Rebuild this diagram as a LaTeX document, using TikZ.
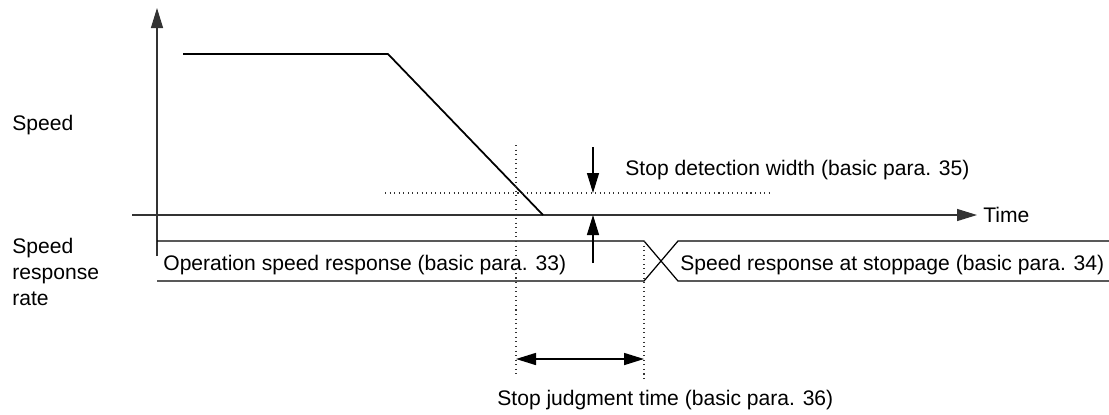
\documentclass[tikz,border=0pt]{standalone}
\usepackage{fontspec}
\setmainfont{Liberation Sans}
\usetikzlibrary{arrows.meta, positioning}

\begin{document}
\begin{tikzpicture}[
  x=0.02cm, y=-0.02cm,
  lbl/.style={font=\fontsize{12}{14}\selectfont, inner sep=0pt, anchor=base west},
  axis/.style={line width=0.7pt, black!80},
  band/.style={line width=0.7pt, black},
  guide/.style={line width=0.6pt, dotted, black!80},
  >={Triangle[length=0.4cm, width=0.24cm]}
]
\useasboundingbox (0,0) rectangle (1109,414);

% axes
\coordinate (ybot) at (157,256);
\coordinate (ytop) at (157,8);
\coordinate (xleft) at (132,215);
\coordinate (xright) at (977,215);
\draw[axis, ->] (ybot) -- (ytop);
\draw[axis, ->] (xleft) -- (xright);
\node[lbl] (time) at (983,222) {Time};

% speed curve
\coordinate (s0) at (183,54);
\coordinate (s1) at (388,54);
\coordinate (s2) at (543,215);
\draw[line width=1pt] (s0) -- (s1) -- (s2);

% speed response band
\coordinate (bl1) at (157,241);
\coordinate (bl2) at (157,281);
\coordinate (bm1) at (644,241);
\coordinate (bm2) at (644,281);
\coordinate (bn1) at (678,241);
\coordinate (bn2) at (678,281);
\coordinate (br1) at (1109,241);
\coordinate (br2) at (1109,281);
\draw[band] (bl1) -- (bm1) -- (bn2) -- (br2);
\draw[band] (bl2) -- (bm2) -- (bn1) -- (br1);
\node[lbl] (oper) at (163,270) {Operation speed response (basic para. 33)};
\node[lbl] (stopresp) at (680,270) {Speed response at stoppage (basic para. 34)};

% left labels
\node[lbl] (speed) at (12,130) {Speed};
\node[lbl] (rate1) at (12,253) {Speed};
\node[lbl] (rate2) at (12,279) {response};
\node[lbl] (rate3) at (12,305) {rate};

% stop detection width
\coordinate (dleft) at (385,193);
\coordinate (dright) at (772,193);
\draw[guide] (dleft) -- (dright);
\coordinate (wtop) at (593,147);
\coordinate (wmid) at (593,193);
\coordinate (wbot) at (593,263);
\coordinate (waxis) at (593,215);
\draw[line width=0.7pt, ->] (wtop) -- (wmid);
\draw[line width=0.7pt, ->] (wbot) -- (waxis);
\node[lbl] (width) at (625,175) {Stop detection width (basic para. 35)};

% stop judgment time
\coordinate (j1top) at (516,145);
\coordinate (j1bot) at (516,377);
\coordinate (j2top) at (644,241);
\coordinate (j2bot) at (644,381);
\draw[guide] (j1top) -- (j1bot);
\draw[guide] (j2top) -- (j2bot);
\coordinate (ja) at (516,359);
\coordinate (jb) at (644,359);
\draw[line width=0.9pt, <->] (ja) -- (jb);
\node[lbl] (judge) at (497,405) {Stop judgment time (basic para. 36)};
\end{tikzpicture}
\end{document}
